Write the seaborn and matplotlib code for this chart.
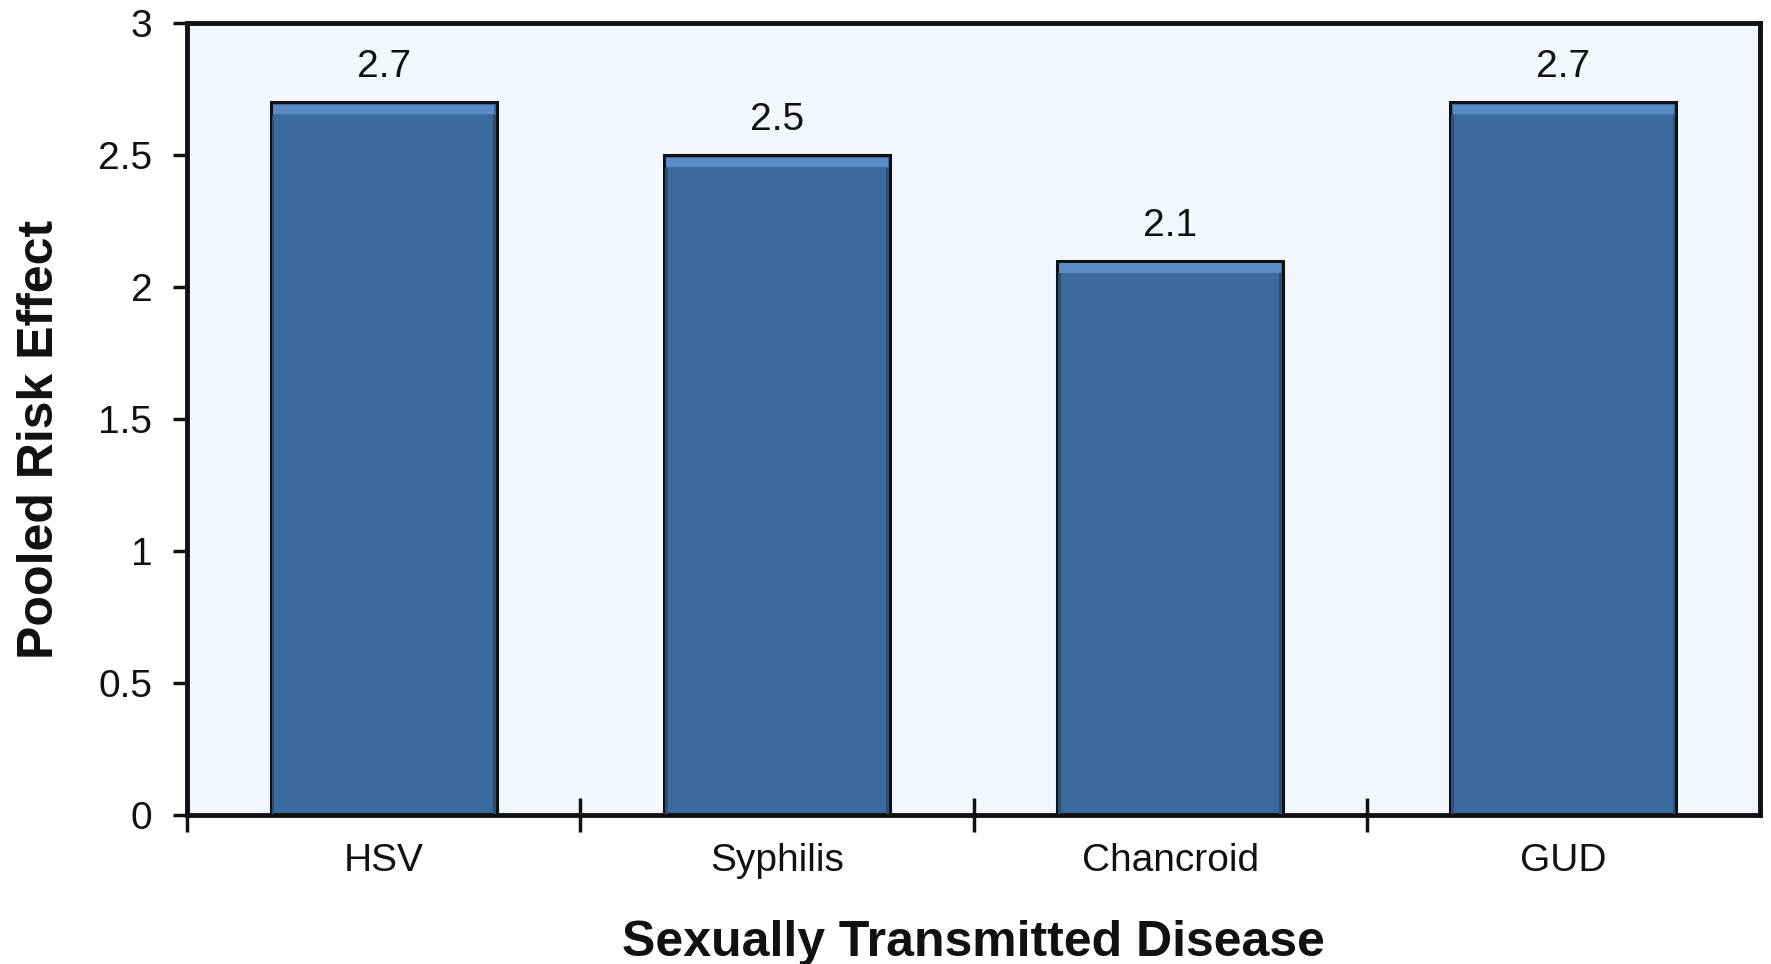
import matplotlib
matplotlib.use("Agg")
import matplotlib.pyplot as plt
import matplotlib.patches as mpatches
import seaborn as sns
import pandas as pd

categories = ["HSV", "Syphilis", "Chancroid", "GUD"]
risk_values = [2.7, 2.5, 2.1, 2.7]
y_ticks = [0, 0.5, 1, 1.5, 2, 2.5, 3]
y_tick_labels = ["0", "0.5", "1", "1.5", "2", "2.5", "3"]

sns.set_theme(style="white")
plt.rcParams["font.family"] = ["Liberation Sans", "DejaVu Sans"]

df = pd.DataFrame({"disease": categories, "risk": risk_values})

fig = plt.figure(figsize=(17.71, 9.64), dpi=100)
ax = fig.add_axes([0.1056, 0.1546, 0.8882, 0.8214])
ax.set_facecolor("#F2F6FD")

bar_color = "#3B6A9E"
sns.barplot(data=df, x="disease", y="risk", color=bar_color, width=0.575,
            saturation=1, edgecolor="#111111", linewidth=2.2, ax=ax)

# bevel: lighter band along the top, darker strips down the sides
for p in ax.patches[:len(categories)]:
    x0, w = p.get_x(), p.get_width()
    top = p.get_y() + p.get_height()
    ax.add_patch(mpatches.Rectangle((x0 + w * 0.01, top - 0.045), w * 0.98, 0.035,
                                    facecolor="#5C8CC4", edgecolor="none", zorder=3))
    ax.add_patch(mpatches.Rectangle((x0 + w * 0.005, 0.003), w * 0.012, top - 0.05,
                                    facecolor="#2A4F78", edgecolor="none", zorder=3))
    ax.add_patch(mpatches.Rectangle((x0 + w * 0.983, 0.003), w * 0.012, top - 0.05,
                                    facecolor="#2A4F78", edgecolor="none", zorder=3))

for i, v in enumerate(risk_values):
    ax.text(i, v + 0.065, f"{v:g}", ha="center", va="bottom", fontsize=28, color="#111111")

ax.set_xlim(-0.5, 3.5)
ax.set_ylim(0, 3)
ax.set_yticks(y_ticks)
ax.set_yticklabels(y_tick_labels, fontsize=28, color="#111111")
ax.set_xticks(range(len(categories)))
ax.set_xticklabels(categories, fontsize=28, color="#111111")
ax.set_xticks([-0.5, 0.5, 1.5, 2.5], minor=True)

ax.tick_params(axis="y", which="major", direction="out", length=10, width=2.5,
               left=True, pad=15, colors="#111111")
ax.tick_params(axis="x", which="major", length=0, pad=20)
ax.tick_params(axis="x", which="minor", direction="inout", length=24, width=2.5,
               bottom=True, colors="#111111")

for s in ax.spines.values():
    s.set_visible(True)
    s.set_color("#111111")
    s.set_linewidth(3.5)

ax.set_xlabel("Sexually Transmitted Disease", fontsize=36, fontweight="bold",
              color="#111111", labelpad=30)
ax.set_ylabel("Pooled Risk Effect", fontsize=36, fontweight="bold", color="#111111")
ax.yaxis.set_label_coords(-0.079, 0.474)

fig.savefig("out.png", dpi=100, facecolor="white")
